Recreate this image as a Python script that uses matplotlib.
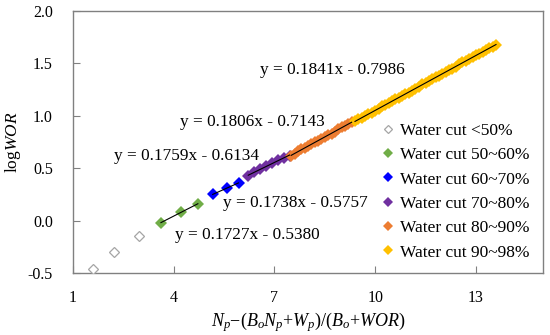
import matplotlib.pyplot as plt
import numpy as np

plt.rcParams['font.family'] = ['Liberation Serif', 'DejaVu Serif']
plt.rcParams['mathtext.fontset'] = 'custom'
plt.rcParams['mathtext.rm'] = 'Liberation Serif'
plt.rcParams['mathtext.it'] = 'Liberation Serif:italic'

# data
x_lt50 = [1.60, 2.22, 2.96]
y_lt50 = [-0.46, -0.30, -0.15]

x_50_60 = [3.62, 4.21, 4.72]
y_50_60 = [-0.02, 0.08, 0.16]

x_60_70 = [5.16, 5.58, 5.93]
y_60_70 = [0.25, 0.31, 0.36]

x_70_80 = [6.22, 6.40, 6.58, 6.76, 6.94, 7.12, 7.30, 7.45]
y_70_80 = [0.43, 0.46, 0.49, 0.52, 0.55, 0.58, 0.60, 0.62]

x_80_90 = [7.50, 7.60, 7.70, 7.80, 7.90, 8.00, 8.10, 8.20, 8.30, 8.40,
           8.50, 8.60, 8.70, 8.80, 8.90, 9.00, 9.10, 9.20, 9.30]
y_80_90 = [0.62, 0.64, 0.66, 0.68, 0.69, 0.71, 0.73, 0.75, 0.76, 0.78,
           0.80, 0.82, 0.83, 0.85, 0.87, 0.89, 0.90, 0.92, 0.94]

x_90_98 = [9.40, 9.50, 9.60, 9.70, 9.80, 9.90, 10.00, 10.10, 10.20, 10.30,
           10.40, 10.50, 10.60, 10.70, 10.80, 10.90, 11.00, 11.10, 11.20, 11.30,
           11.40, 11.50, 11.60, 11.70, 11.80, 11.90, 12.00, 12.10, 12.20, 12.30,
           12.40, 12.50, 12.60, 12.70, 12.80, 12.90, 13.00, 13.10, 13.20, 13.30,
           13.40, 13.50, 13.60]
y_90_98 = [0.95, 0.97, 0.98, 1.00, 1.02, 1.03, 1.05, 1.07, 1.09, 1.10,
           1.12, 1.14, 1.16, 1.17, 1.19, 1.21, 1.22, 1.24, 1.26, 1.28,
           1.30, 1.31, 1.33, 1.35, 1.37, 1.38, 1.40, 1.42, 1.44, 1.45,
           1.47, 1.49, 1.51, 1.52, 1.54, 1.56, 1.58, 1.59, 1.61, 1.63,
           1.65, 1.66, 1.68]

equations = ["y = 0.1727x - 0.5380", "y = 0.1738x - 0.5757", "y = 0.1759x - 0.6134",
             "y = 0.1806x - 0.7143", "y = 0.1841x - 0.7986"]
eq_pos = [(4.04, -0.14), (5.46, 0.17), (2.22, 0.62), (4.18, 0.94), (6.57, 1.44)]

labels = ["Water cut <50%", "Water cut 50~60%", "Water cut 60~70%",
          "Water cut 70~80%", "Water cut 80~90%", "Water cut 90~98%"]
colors = ["#A5A5A5", "#70AD47", "#0000FF", "#7030A0", "#ED7D31", "#FFC000"]

fig = plt.figure(figsize=(5.5, 3.35), dpi=100)
ax = fig.add_axes([0.1327, 0.185, 0.8546, 0.782])

groups = [(x_lt50, y_lt50), (x_50_60, y_50_60), (x_60_70, y_60_70),
          (x_70_80, y_70_80), (x_80_90, y_80_90), (x_90_98, y_90_98)]

for i, (gx, gy) in enumerate(groups):
    if i == 0:
        ax.plot(gx, gy, linestyle='none', marker='D', markersize=5.2,
                markerfacecolor='white', markeredgecolor=colors[i],
                markeredgewidth=0.9, label=labels[i], zorder=3)
    else:
        ax.plot(gx, gy, linestyle='none', marker='D', markersize=6.3,
                color=colors[i], markeredgewidth=0, label=labels[i], zorder=3)
        # linear trend line
        k, b = np.polyfit(gx, gy, 1)
        xx = np.array([min(gx), max(gx)])
        ax.plot(xx, k * xx + b, color='black', linewidth=0.8, zorder=4)

for eq, (ex, ey) in zip(equations, eq_pos):
    ax.text(ex, ey, eq, fontsize=12.4, ha='left', va='center')

ax.set_xlim(1, 15)
ax.set_ylim(-0.5, 2.0)
ax.set_xticks([1, 4, 7, 10, 13])
ax.set_yticks([-0.5, 0.0, 0.5, 1.0, 1.5, 2.0])
ax.set_yticklabels(['-0.5', '0.0', '0.5', '1.0', '1.5', '2.0'])
ax.tick_params(direction='in', length=5, color='#808080', labelsize=11.5)
ax.tick_params(axis='y', pad=14.5)
ax.tick_params(axis='x', pad=12)

for s in ax.spines.values():
    s.set_color('#808080')
    s.set_linewidth(1.0)

ax.set_xlabel(r'$N_p\mathrm{-}(B_oN_p\mathrm{+}W_p)/(B_o\mathrm{+}WOR)$', fontsize=13, labelpad=3)
ax.set_ylabel(r'log$\mathit{WOR}$', fontsize=12.5, labelpad=3)

ax.legend(loc='upper left', bbox_to_anchor=(0.64, 0.6), frameon=False,
          fontsize=12.5, handlelength=0.8, handletextpad=0.3,
          labelspacing=0.47, markerscale=0.75, borderaxespad=0)

fig.savefig('out.png', dpi=100)
